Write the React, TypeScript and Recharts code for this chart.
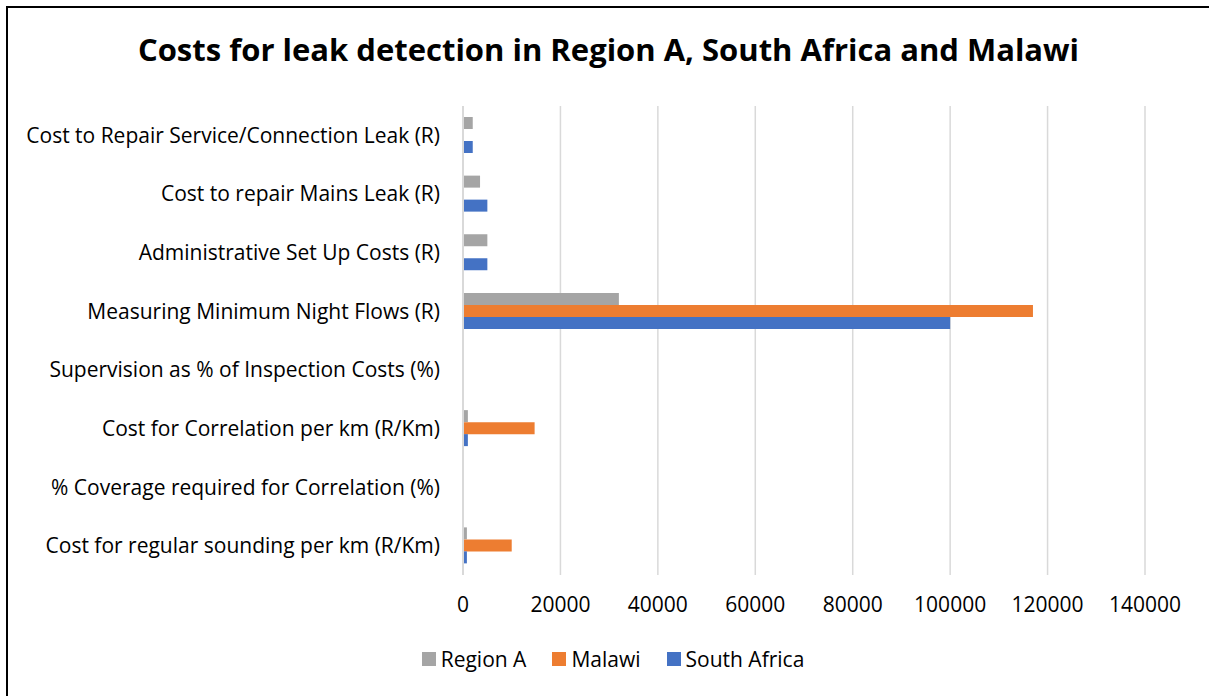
import { BarChart, Bar, XAxis, YAxis, CartesianGrid } from "recharts"

// categories, top to bottom as shown
const categories = [
  "Cost to Repair Service/Connection Leak (R)",
  "Cost to repair Mains Leak (R)",
  "Administrative Set Up Costs (R)",
  "Measuring Minimum Night Flows (R)",
  "Supervision as % of Inspection Costs (%)",
  "Cost for Correlation per km (R/Km)",
  "% Coverage required for Correlation (%)",
  "Cost for regular sounding per km (R/Km)",
]

const regionA = [2000, 3500, 5000, 32000, 0, 1000, 0, 800]
const malawi = [0, 0, 0, 117000, 0, 14700, 0, 10000]
const southAfrica = [2000, 5000, 5000, 100000, 0, 1000, 0, 800]

const xTicks = [0, 20000, 40000, 60000, 80000, 100000, 120000, 140000]

const series = [
  { key: "regionA", name: "Region A", color: "#A5A5A5" },
  { key: "malawi", name: "Malawi", color: "#ED7D31" },
  { key: "southAfrica", name: "South Africa", color: "#4472C4" },
]

const data = categories.map((name, i) => ({
  name,
  regionA: regionA[i],
  malawi: malawi[i],
  southAfrica: southAfrica[i],
}))

const FONT = "'Open Sans', sans-serif"

export default function App() {
  return (
    <div style={{ position: "absolute", left: 0, top: 0, width: 1209, height: 696, background: "#fff", fontFamily: FONT, overflow: "hidden" }}>
      {/* frame: only the left and top edges show */}
      <div style={{ position: "absolute", left: 6, top: 6, width: 2, height: 690, background: "#000" }} />
      <div style={{ position: "absolute", left: 6, top: 6, width: 1203, height: 2, background: "#000" }} />
      <div
        style={{
          position: "absolute",
          left: 0,
          top: 28,
          width: 1217,
          textAlign: "center",
          fontSize: 31,
          fontWeight: 700,
          color: "#000",
        }}
      >
        Costs for leak detection in Region A, South Africa and Malawi
      </div>
      <div style={{ position: "absolute", left: 0, top: 0 }}>
        <BarChart
          width={1209}
          height={696}
          data={data}
          layout="vertical"
          margin={{ top: 106, right: 64, bottom: 0, left: 0 }}
          barGap={0}
          barCategoryGap={11}
        >
          <CartesianGrid horizontal={false} stroke="#d9d9d9" strokeWidth={1.5} />
          <XAxis
            type="number"
            domain={[0, 140000]}
            ticks={xTicks}
            axisLine={false}
            tickLine={false}
            tickMargin={16}
            height={121}
            tick={{ fill: "#000", fontSize: 21, fontFamily: FONT }}
          />
          <YAxis
            type="category"
            dataKey="name"
            width={463}
            axisLine={{ stroke: "#d9d9d9", strokeWidth: 2 }}
            tickLine={false}
            tickMargin={17}
            interval={0}
            tick={{ fill: "#000", fontSize: 21, fontFamily: FONT }}
          />
          {series.map((s) => (
            <Bar key={s.key} dataKey={s.key} name={s.name} fill={s.color} isAnimationActive={false} />
          ))}
        </BarChart>
      </div>
      <div
        style={{
          position: "absolute",
          left: 0,
          top: 644,
          width: 1226,
          display: "flex",
          justifyContent: "center",
          gap: 26,
          fontSize: 21,
          color: "#000",
          lineHeight: "30px",
        }}
      >
        {series.map((s) => (
          <div key={s.key} style={{ display: "flex", alignItems: "center", gap: 5 }}>
            <span style={{ width: 14, height: 14, background: s.color, display: "inline-block" }} />
            <span>{s.name}</span>
          </div>
        ))}
      </div>
    </div>
  )
}
